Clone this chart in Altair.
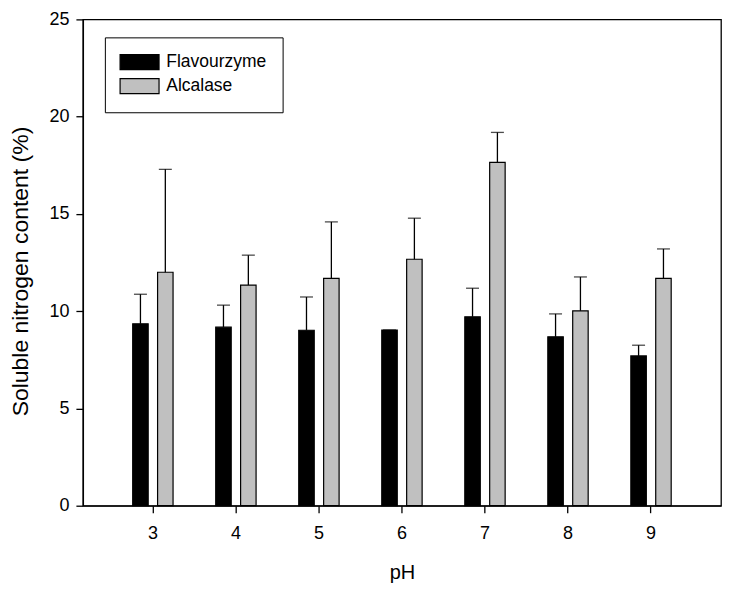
import altair as alt
import pandas as pd

ph = ["3", "4", "5", "6", "7", "8", "9"]
enzymes = ["Flavourzyme", "Alcalase"]
flavourzyme = [9.35, 9.18, 9.02, 9.03, 9.71, 8.68, 7.70]
flavourzyme_err = [1.52, 1.13, 1.71, 0.0, 1.47, 1.18, 0.55]
alcalase = [12.00, 11.34, 11.69, 12.67, 17.65, 10.02, 11.69]
alcalase_err = [5.29, 1.54, 2.90, 2.11, 1.54, 1.74, 1.51]
colors = ["#000000", "#c0c0c0"]

rows = []
for i, p in enumerate(ph):
    rows.append({"pH": p, "enzyme": "Flavourzyme", "value": flavourzyme[i],
                 "upper": flavourzyme[i] + flavourzyme_err[i]})
    rows.append({"pH": p, "enzyme": "Alcalase", "value": alcalase[i],
                 "upper": alcalase[i] + alcalase_err[i]})
df = pd.DataFrame(rows)

FONT = "Liberation Sans"

x = alt.X("pH:N", sort=ph,
          scale=alt.Scale(paddingInner=0.514, paddingOuter=0.6),
          axis=alt.Axis(title="pH", labelAngle=0, tickSize=7, labelPadding=12,
                        titlePadding=20, labelFontSize=18, titleFontSize=20,
                        domainColor="black", tickColor="black", labelColor="black",
                        titleColor="black", titleFontWeight="normal", grid=False))
xoff = alt.XOffset("enzyme:N", sort=enzymes,
                   scale=alt.Scale(paddingInner=0.378, paddingOuter=0))
yscale = alt.Scale(domain=[0, 25], nice=False)

bars = alt.Chart(df).mark_bar(stroke="black", strokeWidth=1.2).encode(
    x=x,
    xOffset=xoff,
    y=alt.Y("value:Q", scale=yscale,
            axis=alt.Axis(title="Soluble nitrogen content (%)", values=[0, 5, 10, 15, 20, 25],
                          tickSize=7, labelPadding=7, titlePadding=16, titleY=252,
                          labelFontSize=18, titleFontSize=23, titleFontWeight="normal",
                          domainColor="black", tickColor="black", labelColor="black",
                          titleColor="black", grid=False)),
    color=alt.Color("enzyme:N", sort=enzymes,
                    scale=alt.Scale(domain=enzymes, range=colors),
                    legend=alt.Legend(title=None, orient="none", legendX=22, legendY=18,
                                      symbolType="M-2.6,-1L2.6,-1L2.6,1L-2.6,1Z",
                                      symbolSize=225, symbolOffset=10,
                                      symbolStrokeColor="black",
                                      symbolStrokeWidth=1.2, labelFontSize=17.5,
                                      labelColor="black", labelOffset=18,
                                      fillColor="white", strokeColor="black",
                                      padding=16, rowPadding=3)),
)

err = alt.Chart(df).mark_rule(color="black", strokeWidth=1.3).encode(
    x=x, xOffset=xoff,
    y=alt.Y("value:Q", scale=yscale),
    y2="upper:Q",
)

caps = alt.Chart(df).mark_tick(color="black", orient="horizontal", size=13, thickness=1.3).encode(
    x=x, xOffset=xoff,
    y=alt.Y("upper:Q", scale=yscale),
)

chart = alt.layer(bars, err, caps).properties(
    width=639, height=487,
    autosize=alt.AutoSizeParams(type="none"),
    padding={"left": 75, "top": 11, "right": 5, "bottom": 80},
).configure(font=FONT).configure_view(stroke="black", strokeWidth=1.3).configure_axis(
    labelFont=FONT, titleFont=FONT, domainWidth=1.3, tickWidth=1.3
).configure_legend(labelFont=FONT)

chart.save("out.html", embed_options={"renderer": "svg", "actions": False})
